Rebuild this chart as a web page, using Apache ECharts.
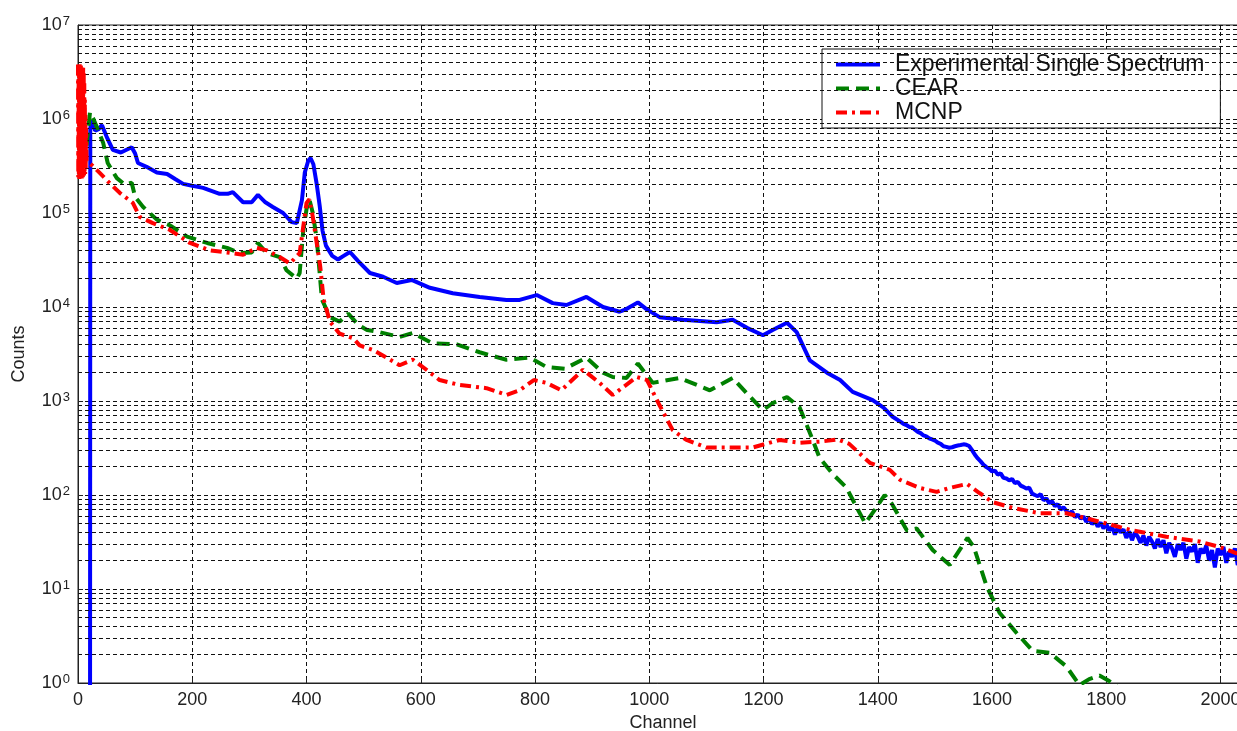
<!DOCTYPE html>
<html>
<head>
<meta charset="utf-8">
<script src="https://cdn.jsdelivr.net/npm/echarts@6/dist/echarts.min.js"></script>
<style>
  html, body { margin: 0; padding: 0; background: #fff; }
  #chart { width: 1237px; height: 731px; }
</style>
</head>
<body>
<div id="chart"></div>
<script>
// Channel ticks along the bottom
const xTicks = [0, 200, 400, 600, 800, 1000, 1200, 1400, 1600, 1800, 2000];
// Decades on the counts axis
const yDecades = [1, 10, 100, 1000, 10000, 100000, 1000000, 10000000];

const seriesNames = ['Experimental Single Spectrum', 'CEAR', 'MCNP'];

// Measured spectrum [channel, counts]
const experimental = [
  [21, 0.01], [21.5, 8.0e5], [24, 9.7e5], [30, 7.5e5], [36, 7.8e5], [42, 8.6e5], [50, 6.5e5],
  [61, 4.7e5], [75, 4.4e5], [94, 5.0e5], [100, 4.3e5], [105, 3.4e5], [120, 3.1e5], [138, 2.7e5],
  [156, 2.6e5], [170, 2.3e5], [184, 2.04e5], [200, 1.95e5], [219, 1.85e5], [248, 1.6e5],
  [262, 1.6e5], [271, 1.67e5], [289, 1.3e5], [304, 1.3e5], [315, 1.56e5], [328, 1.3e5],
  [341, 1.16e5], [359, 1.0e5], [374, 8.0e4], [383, 7.8e4], [392, 1.37e5], [397, 2.7e5],
  [403, 3.6e5], [407, 3.85e5], [412, 3.3e5], [418, 2.0e5], [423, 1.2e5], [428, 6.5e4],
  [434, 4.5e4], [445, 3.5e4], [455, 3.2e4], [465, 3.5e4], [476, 3.85e4], [490, 3.1e4],
  [511, 2.3e4], [534, 2.1e4], [558, 1.8e4], [584, 1.94e4], [616, 1.6e4], [656, 1.4e4],
  [703, 1.28e4], [750, 1.19e4], [773, 1.19e4], [803, 1.34e4], [831, 1.1e4], [855, 1.05e4],
  [890, 1.28e4], [919, 1.0e4], [948, 8.9e3], [960, 9.5e3], [980, 1.12e4], [995, 9.5e3],
  [1018, 7.8e3], [1059, 7.3e3], [1118, 6.9e3], [1146, 7.3e3], [1171, 6.0e3], [1199, 5.0e3],
  [1216, 5.7e3], [1241, 6.8e3], [1258, 5.4e3], [1281, 2.7e3], [1311, 2.0e3], [1334, 1.67e3],
  [1356, 1.25e3], [1391, 1.02e3], [1410, 850], [1426, 680],
  [1440, 600], [1445, 570], [1450, 555], [1455, 530], [1460, 525], [1465, 495], [1470, 470],
  [1475, 455], [1480, 430], [1485, 420], [1490, 400], [1495, 390], [1500, 380], [1505, 360],
  [1510, 350], [1515, 330], [1520, 325], [1525, 318], [1530, 322], [1535, 330], [1540, 336],
  [1545, 340], [1550, 346], [1555, 342], [1560, 332], [1565, 300], [1570, 268], [1575, 245],
  [1580, 228], [1585, 210], [1590, 198], [1595, 190], [1600, 178], [1605, 182], [1610, 165],
  [1615, 170], [1620, 152], [1625, 150], [1630, 143], [1635, 148], [1640, 134], [1645, 138],
  [1650, 126], [1655, 122], [1660, 117], [1665, 120], [1670, 104], [1675, 100], [1680, 97],
  [1685, 102], [1690, 88], [1695, 92], [1700, 82], [1705, 86], [1710, 76], [1715, 80],
  [1720, 70], [1725, 74], [1730, 68], [1735, 63], [1740, 67], [1745, 58], [1750, 62],
  [1755, 56], [1760, 59], [1765, 52], [1770, 57], [1775, 49], [1780, 53], [1785, 46],
  [1790, 51], [1795, 44], [1800, 49], [1805, 42], [1810, 46], [1815, 38], [1820, 45],
  [1825, 40], [1830, 43], [1835, 35], [1840, 41], [1845, 33], [1850, 40], [1855, 36],
  [1860, 31], [1865, 37], [1870, 29], [1875, 36], [1880, 32], [1885, 27], [1890, 34],
  [1895, 28], [1900, 33], [1905, 24], [1910, 31], [1915, 27], [1920, 22], [1925, 30],
  [1930, 26], [1935, 31], [1940, 21], [1945, 28], [1950, 25], [1955, 30], [1960, 19],
  [1965, 27], [1970, 24], [1975, 29], [1980, 20], [1985, 26], [1990, 17], [1995, 27],
  [2000, 23], [2005, 28], [2010, 19], [2015, 25], [2020, 22], [2025, 27], [2030, 18],
  [2035, 24], [2040, 26], [2045, 21]
];

// CEAR simulation [channel, counts]
const cear = [
  [12, 3.2e5], [16, 6.0e5], [21, 1.18e6], [27, 1.0e6], [33, 8.2e5], [44, 5.6e5], [52, 3.4e5],
  [68, 2.35e5], [82, 2.0e5], [94, 2.1e5], [100, 1.48e5], [114, 1.16e5], [138, 8.5e4],
  [161, 7.4e4], [191, 5.6e4], [226, 4.8e4], [261, 4.25e4], [283, 3.75e4], [304, 3.8e4],
  [315, 4.8e4], [330, 3.75e4], [353, 3.4e4], [365, 2.46e4], [383, 2.0e4], [388, 2.3e4],
  [394, 6.2e4], [400, 1.1e5], [405, 1.4e5], [411, 1.0e5], [418, 5.2e4], [427, 1.2e4],
  [441, 7.8e3], [458, 7.0e3], [473, 8.5e3], [490, 6.5e3], [506, 5.7e3], [528, 5.4e3],
  [563, 4.8e3], [586, 5.3e3], [621, 4.1e3], [663, 4.0e3], [703, 3.3e3], [750, 2.75e3],
  [791, 2.9e3], [820, 2.3e3], [852, 2.2e3], [890, 2.9e3], [919, 2.0e3], [936, 1.8e3],
  [960, 1.76e3], [980, 2.5e3], [1006, 1.56e3], [1053, 1.76e3], [1106, 1.3e3], [1146, 1.76e3],
  [1171, 1.2e3], [1199, 800], [1216, 950], [1241, 1.1e3], [1263, 860], [1281, 460],
  [1298, 250], [1320, 170], [1345, 120], [1365, 70], [1378, 50], [1395, 70], [1412, 100],
  [1425, 80], [1440, 55], [1451, 42], [1468, 44], [1496, 26], [1526, 18], [1545, 27],
  [1557, 35], [1568, 28], [1591, 10.5], [1613, 5.6], [1643, 3.4], [1671, 2.2], [1701, 2.1],
  [1730, 1.5], [1753, 0.95], [1770, 1.1], [1788, 1.2], [1805, 1.05], [1820, 0.9], [1840, 0.75]
];

// MCNP simulation [channel, counts]
const mcnp = [
  [0, 3.8e6], [0.5, 2.4e5], [1, 3.7e6], [1.5, 2.5e5], [2, 3.6e6], [2.5, 2.3e5], [3, 3.9e6],
  [3.5, 2.6e5], [4, 3.5e6], [4.5, 2.4e5], [5, 3.7e6], [5.5, 2.5e5], [6, 3.4e6], [6.5, 2.3e5],
  [7, 3.6e6], [7.5, 2.6e5], [8, 3.3e6], [8.5, 2.4e5], [9, 3.5e6], [9.5, 2.7e5], [10, 3.2e6],
  [10.5, 2.5e5], [11, 2.4e6], [11.5, 2.8e5], [12, 1.6e6], [12.5, 2.6e5], [13, 1.1e6],
  [13.5, 3.0e5], [14, 8.0e5], [15, 3.6e5], [17, 3.7e5], [25, 3.2e5], [38, 2.67e5], [56, 2.06e5],
  [73, 1.64e5], [96, 1.28e5], [108, 9.1e4], [131, 7.8e4], [161, 6.6e4], [196, 4.8e4],
  [231, 4.0e4], [261, 3.8e4], [289, 3.6e4], [313, 4.25e4], [331, 4.0e4], [353, 3.4e4],
  [371, 2.9e4], [388, 3.75e4], [400, 1.28e5], [405, 1.4e5], [411, 9.1e4], [424, 2.7e4],
  [430, 1.2e4], [441, 7.0e3], [458, 5.2e3], [482, 4.65e3], [493, 3.9e3], [516, 3.5e3],
  [540, 2.9e3], [563, 2.4e3], [586, 2.75e3], [610, 2.15e3], [633, 1.67e3], [668, 1.48e3],
  [715, 1.37e3], [750, 1.16e3], [773, 1.3e3], [798, 1.67e3], [820, 1.56e3], [846, 1.3e3],
  [884, 2.15e3], [913, 1.56e3], [936, 1.16e3], [978, 1.8e3], [996, 1.67e3], [1018, 900],
  [1041, 490], [1065, 385], [1100, 320], [1146, 320], [1181, 320], [1228, 385], [1263, 360],
  [1300, 370], [1330, 390], [1350, 350], [1386, 220], [1421, 185], [1439, 145], [1473, 119],
  [1503, 108], [1526, 119], [1556, 131], [1578, 105], [1601, 84], [1636, 73], [1683, 64],
  [1730, 64], [1788, 52], [1846, 42], [1905, 36], [1963, 32], [1998, 28], [2028, 24], [2045, 23]
];

// Minor log grid values (2..9 within each decade)
const minorGrid = [];
for (let d = 0; d < yDecades.length - 1; d++) {
  for (let m = 2; m <= 9; m++) minorGrid.push({ yAxis: m * yDecades[d] });
}

const FONT = 'Liberation Sans, Arial, Helvetica, sans-serif';
const gridDash = [4, 3];

const chart = echarts.init(document.getElementById('chart'), null, { renderer: 'canvas' });

chart.setOption({
  animation: false,
  backgroundColor: '#fff',
  textStyle: { fontFamily: FONT },
  grid: {
    left: 78, top: 25, bottom: 48, right: -11,
    containLabel: false, outerBoundsMode: 'none',
    show: true, borderColor: '#222', borderWidth: 1, backgroundColor: 'transparent'
  },
  legend: {
    data: seriesNames,
    orient: 'vertical',
    left: 822, top: 49,
    backgroundColor: '#fff',
    borderColor: '#111', borderWidth: 1, borderRadius: 0,
    padding: [4, 16, 4, 12],
    itemWidth: 44, itemHeight: 14, itemGap: 1,
    itemStyle: { opacity: 0, borderWidth: 0 },
    lineStyle: { width: 4 },
    textStyle: { fontFamily: FONT, fontSize: 23, color: '#111', padding: [0, 0, 0, 10] }
  },
  xAxis: {
    type: 'value',
    min: 0, max: 2048, interval: 200,
    name: 'Channel', nameLocation: 'middle', nameGap: 30,
    nameTextStyle: { fontFamily: FONT, fontSize: 18, color: '#222' },
    axisLine: { show: true, lineStyle: { color: '#222' } },
    axisTick: { show: true, inside: true, length: 5, lineStyle: { color: '#222' } },
    axisLabel: {
      fontFamily: FONT, fontSize: 18, color: '#222', margin: 8,
      formatter: v => (xTicks.indexOf(v) >= 0 ? String(v) : '')
    },
    splitLine: { show: true, lineStyle: { color: '#111', type: gridDash, width: 1 } }
  },
  yAxis: {
    type: 'log', logBase: 10,
    min: yDecades[0], max: yDecades[yDecades.length - 1], splitNumber: 7,
    name: 'Counts', nameLocation: 'middle', nameGap: 50,
    nameTextStyle: { fontFamily: FONT, fontSize: 18, color: '#222' },
    axisLine: { show: true, lineStyle: { color: '#222' } },
    axisTick: { show: true, inside: true, length: 5, lineStyle: { color: '#222' } },
    axisLabel: {
      margin: 8, color: '#222',
      formatter: v => '{b|10}{e|' + Math.round(Math.log10(v)) + '}',
      rich: {
        b: { fontFamily: FONT, fontSize: 18, color: '#222' },
        e: { fontFamily: FONT, fontSize: 13, color: '#222', verticalAlign: 'top', padding: [0, 0, 8, 1] }
      }
    },
    splitLine: { show: true, lineStyle: { color: '#111', type: gridDash, width: 1 } }
  },
  series: [
    {
      name: 'grid-minor', type: 'line', data: [], z: 1, silent: true,
      markLine: {
        silent: true, symbol: ['none', 'none'], animation: false,
        label: { show: false },
        lineStyle: { color: '#111', type: gridDash, width: 1 },
        emphasis: { disabled: true },
        data: minorGrid
      }
    },
    {
      name: seriesNames[0], type: 'line', data: experimental, z: 3,
      showSymbol: false, symbol: 'none',
      lineStyle: { color: '#0000ff', width: 4 }, itemStyle: { color: '#0000ff' }
    },
    {
      name: seriesNames[1], type: 'line', data: cear, z: 4,
      showSymbol: false, symbol: 'none',
      lineStyle: { color: '#008000', width: 4, type: [13, 7] }, itemStyle: { color: '#008000' }
    },
    {
      name: seriesNames[2], type: 'line', data: mcnp, z: 5,
      showSymbol: false, symbol: 'none',
      lineStyle: { color: '#ff0000', width: 4, type: [11, 5, 3, 5] }, itemStyle: { color: '#ff0000' }
    }
  ]
});
</script>
</body>
</html>
